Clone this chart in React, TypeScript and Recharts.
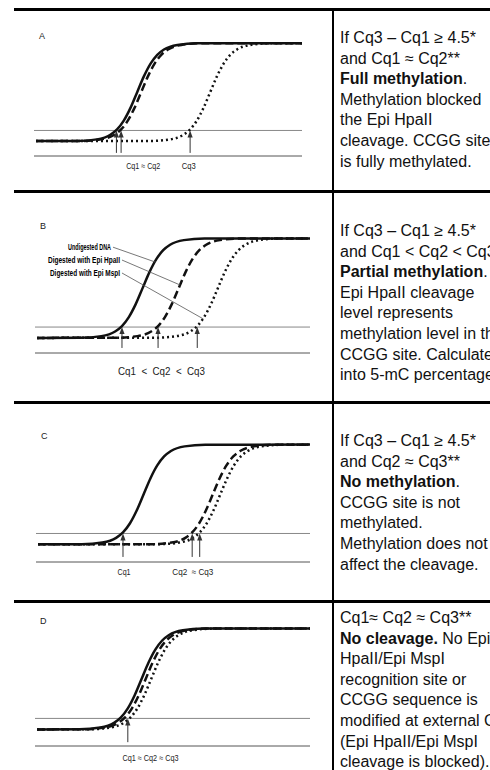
import React from 'react'
import { LineChart, Line, XAxis, YAxis, ReferenceLine, ReferenceDot } from 'recharts'

const RFU = [12, 12.1, 13.4, 17.1, 21.4, 28.5, 38.8, 51.5, 64.2, 74.5, 81.6, 85.9, 89.6, 90.9, 91]
const THRESHOLD = 20.6

// cycle at which each RFU level above is reached
const A_UNDIGESTED = [0.3, 6.4, 9.4, 11.4, 12.4, 13.4, 14.4, 15.4, 16.4, 17.4, 18.4, 19.4, 21.4, 24.4, 40]
const A_HPAII = [0.3, 7, 10, 12, 13, 14, 15, 16, 17, 18, 19, 20, 22, 25, 40]
const A_MSPI = [0.3, 17.3, 20.3, 22.3, 23.3, 24.3, 25.3, 26.3, 27.3, 28.3, 29.3, 30.3, 32.3, 35.3, 40]

const B_UNDIGESTED = [0.3, 6.65, 9.65, 11.65, 12.65, 13.65, 14.65, 15.65, 16.65, 17.65, 18.65, 19.65, 21.65, 24.65, 40]
const B_HPAII = [0.3, 11.9, 14.9, 16.9, 17.9, 18.9, 19.9, 20.9, 21.9, 22.9, 23.9, 24.9, 26.9, 29.9, 40]
const B_MSPI = [0.3, 17.6, 20.6, 22.6, 23.6, 24.6, 25.6, 26.6, 27.6, 28.6, 29.6, 30.6, 32.6, 35.6, 40]

const C_UNDIGESTED = [0.3, 6.7, 9.7, 11.7, 12.7, 13.7, 14.7, 15.7, 16.7, 17.7, 18.7, 19.7, 21.7, 24.7, 40]
const C_HPAII = [0.3, 16.8, 19.8, 21.8, 22.8, 23.8, 24.8, 25.8, 26.8, 27.8, 28.8, 29.8, 31.8, 34.8, 40]
const C_MSPI = [0.3, 17.9, 20.9, 22.9, 23.9, 24.9, 25.9, 26.9, 27.9, 28.9, 29.9, 30.9, 32.9, 35.9, 40]

const D_UNDIGESTED = [0.3, 6.5, 9.5, 11.5, 12.5, 13.5, 14.5, 15.5, 16.5, 17.5, 18.5, 19.5, 21.5, 24.5, 40]
const D_HPAII = [0.3, 7.1, 10.1, 12.1, 13.1, 14.1, 15.1, 16.1, 17.1, 18.1, 19.1, 20.1, 22.1, 25.1, 40]
const D_MSPI = [0.3, 7.9, 10.9, 12.9, 13.9, 14.9, 15.9, 16.9, 17.9, 18.9, 19.9, 20.9, 22.9, 25.9, 40]

// Cq arrows (cycle where each curve crosses the threshold)
const A_ARROWS = [12.3, 13.0, 23.3]
const B_ARROWS = [12.65, 17.9, 23.6]
const C_ARROWS = [12.7, 22.8, 23.9]
const D_ARROWS = [13.5]

// labels under the x axis
const A_TICKS = [16.3, 23.1]
const A_LABELS = ['Cq1 ≈ Cq2', 'Cq3']
const B_TICKS = [18.4]
const B_LABELS = ['Cq1  <  Cq2  <  Cq3']
const C_TICKS = [12.85, 22.9]
const C_LABELS = ['Cq1', 'Cq2  ≈ Cq3']
const D_TICKS = [16.8]
const D_LABELS = ['Cq1 ≈ Cq2 ≈ Cq3']

// legend callouts in panel B: [cycle, RFU] of text end and of the curve point
const B_CALLOUTS = ['Undigested DNA', 'Digested with Epi HpaII', 'Digested with Epi MspI']
const B_CALLOUT_FROM = [[11.35, 84], [12.65, 73.8], [12.65, 63.5]]
const B_CALLOUT_TO = [[17.6, 72], [21.1, 54], [24.5, 27]]

const NOTE_A = ['If Cq3 – Cq1 ≥ 4.5*', 'and Cq1 ≈ Cq2**', '|Full methylation|.', 'Methylation blocked', 'the Epi HpaII', 'cleavage. CCGG site', 'is fully methylated.']
const NOTE_B = ['If Cq3 – Cq1 ≥ 4.5*', 'and Cq1 < Cq2 < Cq3', '|Partial methylation|.', 'Epi HpaII cleavage', 'level represents', 'methylation level in the', 'CCGG site. Calculate', 'into 5-mC percentage.']
const NOTE_C = ['If Cq3 – Cq1 ≥ 4.5*', 'and Cq2 ≈ Cq3**', '|No methylation|.', 'CCGG site is not', 'methylated.', 'Methylation does not', 'affect the cleavage.']
const NOTE_D = ['Cq1≈ Cq2 ≈ Cq3**', '|No cleavage.| No Epi', 'HpaII/Epi MspI', 'recognition site or', 'CCGG sequence is', 'modified at external C', '(Epi HpaII/Epi MspI', 'cleavage is blocked).']

const NARROW = '"Liberation Sans Narrow", "Liberation Sans", Arial, sans-serif'
const SANS = '"Liberation Sans", Arial, sans-serif'

function Arrowhead(props: any) {
  const { cx, cy } = props
  return <path d={`M${cx},${cy} L${cx - 2.6},${cy + 7} L${cx + 2.6},${cy + 7} Z`} fill="#333" />
}

function AmplificationPanel({ cfg }: { cfg: any }) {
  const { left, right, top, bottom } = cfg
  const w = right - left + 8
  const h = bottom - top + 4 + 24
  const series = [
    { key: 'undigested', cycles: cfg.undigested, dash: undefined },
    { key: 'hpaii', cycles: cfg.hpaii, dash: '8 4' },
    { key: 'mspi', cycles: cfg.mspi, dash: '2 3' },
  ]
  const tick = (props: any) => {
    const { x, y, index } = props
    return (
      <text
        x={x}
        y={y + cfg.labelDy}
        textAnchor="middle"
        dominantBaseline="central"
        fontSize={cfg.labelSize}
        fontFamily={cfg.labelFont}
        fill="#222"
        textLength={cfg.labelWidths[index]}
        lengthAdjust="spacingAndGlyphs"
        style={{ whiteSpace: 'pre' }}
      >
        {cfg.labels[index]}
      </text>
    )
  }
  return (
    <div style={{ position: 'absolute', left: left - 4, top: top - 4, width: w, height: h }}>
      <LineChart width={w} height={h} margin={{ top: 4, right: 4, bottom: 0, left: 4 }}>
        <XAxis
          type="number"
          dataKey="c"
          domain={[0, 40]}
          ticks={cfg.ticks}
          interval={0}
          height={24}
          tickSize={0}
          tickMargin={0}
          tickLine={false}
          axisLine={{ stroke: '#555', strokeWidth: 1 }}
          tick={tick}
          allowDataOverflow
        />
        <YAxis
          type="number"
          domain={cfg.yDomain}
          width={0}
          tick={false}
          tickLine={false}
          axisLine={{ stroke: '#555', strokeWidth: 1 }}
          allowDataOverflow
        />
        <ReferenceLine y={THRESHOLD} stroke="#888" strokeWidth={1} />
        {series.map((s) => (
          <Line
            key={s.key}
            data={s.cycles.map((c: number, i: number) => ({ c, v: RFU[i] }))}
            dataKey="v"
            type="monotone"
            dot={false}
            activeDot={false}
            stroke="#111"
            strokeWidth={2.5}
            strokeDasharray={s.dash}
            isAnimationActive={false}
          />
        ))}
        {cfg.arrows.map((c: number) => (
          <ReferenceLine
            key={`s${c}`}
            segment={[{ x: c, y: cfg.arrowBase }, { x: c, y: THRESHOLD - 4 }]}
            stroke="#333"
            strokeWidth={1}
          />
        ))}
        {cfg.arrows.map((c: number) => (
          <ReferenceDot key={`h${c}`} x={c} y={THRESHOLD} r={0} shape={Arrowhead} />
        ))}
        {(cfg.callouts || []).map((label: string, i: number) => (
          <ReferenceLine
            key={`p${i}`}
            segment={[
              { x: cfg.calloutFrom[i][0], y: cfg.calloutFrom[i][1] },
              { x: cfg.calloutTo[i][0], y: cfg.calloutTo[i][1] },
            ]}
            stroke="#555"
            strokeWidth={0.8}
          />
        ))}
        {(cfg.callouts || []).map((label: string, i: number) => (
          <ReferenceDot
            key={`t${i}`}
            x={cfg.calloutFrom[i][0]}
            y={cfg.calloutFrom[i][1]}
            r={0}
            shape={(p: any) => (
              <text
                x={p.cx - 2}
                y={p.cy + 3}
                textAnchor="end"
                fontSize={8.5}
                fontWeight="bold"
                fontFamily={NARROW}
                fill="#000"
                textLength={cfg.calloutWidths[i]}
                lengthAdjust="spacingAndGlyphs"
              >
                {label}
              </text>
            )}
          />
        ))}
      </LineChart>
    </div>
  )
}

function Note({ top, lines }: { top: number; lines: string[] }) {
  return (
    <div
      style={{
        position: 'absolute',
        left: 340,
        top,
        fontFamily: SANS,
        fontSize: 16,
        lineHeight: '20.6px',
        color: '#111',
        whiteSpace: 'nowrap',
      }}
    >
      {lines.map((ln, i) => (
        <div key={i}>
          {ln.split('|').map((part, j) => (j % 2 ? <b key={j}>{part}</b> : <span key={j}>{part}</span>))}
        </div>
      ))}
    </div>
  )
}

const PANELS = [
  {
    letter: 'A', left: 34, right: 302, top: 32, bottom: 156, yDomain: [0, 100], arrowBase: 2.5,
    undigested: A_UNDIGESTED, hpaii: A_HPAII, mspi: A_MSPI, arrows: A_ARROWS,
    ticks: A_TICKS, labels: A_LABELS, labelWidths: [34, 14], labelDy: 10, labelSize: 9, labelFont: NARROW,
  },
  {
    letter: 'B', left: 35, right: 310, top: 222, bottom: 353, yDomain: [0, 104], arrowBase: 4,
    undigested: B_UNDIGESTED, hpaii: B_HPAII, mspi: B_MSPI, arrows: B_ARROWS,
    ticks: B_TICKS, labels: B_LABELS, labelWidths: [87], labelDy: 18, labelSize: 11, labelFont: SANS,
    callouts: B_CALLOUTS, calloutFrom: B_CALLOUT_FROM, calloutTo: B_CALLOUT_TO, calloutWidths: [43, 72, 70],
  },
  {
    letter: 'C', left: 36, right: 310, top: 432, bottom: 562, yDomain: [-2, 101], arrowBase: 2,
    undigested: C_UNDIGESTED, hpaii: C_HPAII, mspi: C_MSPI, arrows: C_ARROWS,
    ticks: C_TICKS, labels: C_LABELS, labelWidths: [13, 41], labelDy: 10, labelSize: 9, labelFont: NARROW,
  },
  {
    letter: 'D', left: 35, right: 310, top: 617, bottom: 746, yDomain: [-1, 100], arrowBase: 2,
    undigested: D_UNDIGESTED, hpaii: D_HPAII, mspi: D_MSPI, arrows: D_ARROWS,
    ticks: D_TICKS, labels: D_LABELS, labelWidths: [56], labelDy: 12, labelSize: 9, labelFont: NARROW,
  },
]

const NOTES = [
  { top: 28, lines: NOTE_A },
  { top: 221, lines: NOTE_B },
  { top: 431, lines: NOTE_C },
  { top: 608, lines: NOTE_D },
]

const RULES_Y = [8, 190, 400.5, 599.5]

export default function App() {
  return (
    <div
      style={{
        position: 'absolute',
        left: 0,
        top: 0,
        width: 490,
        height: 770,
        overflow: 'hidden',
        background: '#fff',
        fontFamily: SANS,
      }}
    >
      {RULES_Y.map((y) => (
        <div key={y} style={{ position: 'absolute', left: 14, top: y, width: 476, height: 3, background: '#000' }} />
      ))}
      <div style={{ position: 'absolute', left: 332, top: 8, width: 2, height: 762, background: '#000' }} />
      {PANELS.map((p) => (
        <React.Fragment key={p.letter}>
          <AmplificationPanel cfg={p} />
          <span
            style={{
              position: 'absolute',
              left: p.left + 5,
              top: p.top - 1,
              fontSize: 9,
              fontFamily: SANS,
              color: '#222',
              lineHeight: '10px',
            }}
          >
            {p.letter}
          </span>
        </React.Fragment>
      ))}
      {NOTES.map((n, i) => (
        <Note key={i} top={n.top} lines={n.lines} />
      ))}
    </div>
  )
}
